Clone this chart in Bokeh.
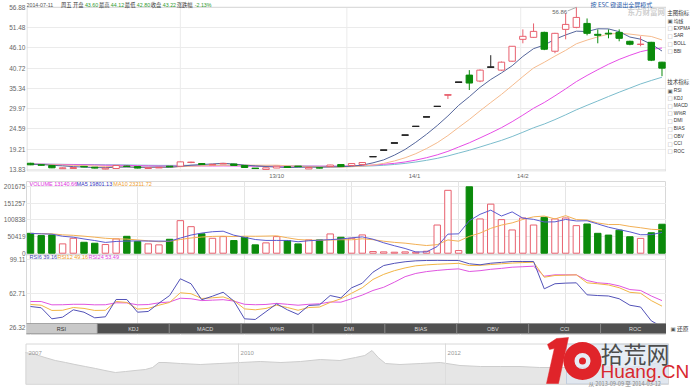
from bokeh.plotting import figure
from bokeh.layouts import column, row
from bokeh.models import Range1d, FixedTicker, CustomJSTickFormatter, Label, Span, Grid, ColumnDataSource
from bokeh.core.properties import value
from bokeh.embed import file_html
from bokeh.resources import INLINE

# ---------------- data ----------------
opens = [15.49, 15.10, 14.89, 14.05, 14.10, 14.65, 14.45, 13.95, 14.10, 14.75,
         14.62, 14.10, 14.30, 14.65, 14.70, 15.70, 15.41, 15.10, 15.35, 15.30,
         14.89, 14.15, 13.85, 14.23, 14.62, 14.68, 13.98, 14.30, 14.62, 15.15,
         14.89, 15.15, 17.25, 18.97, 20.87, 22.96, 25.26, 27.78, 30.56, 33.60,
         36.98, 38.88, 37.30, 40.99, 40.20, 42.57, 48.37, 48.90, 50.22, 45.21,
         51.01, 51.54, 52.59, 49.70, 50.00, 50.22, 47.85, 47.00, 47.58, 42.31]
highs = [15.60, 15.20, 14.95, 14.40, 14.45, 14.75, 14.50, 14.25, 14.95, 14.85,
         14.70, 14.35, 14.45, 14.70, 15.95, 15.90, 15.50, 15.30, 15.55, 15.35,
         14.95, 14.20, 14.35, 14.75, 14.70, 14.75, 14.40, 14.35, 15.10, 15.20,
         15.45, 15.70, 17.25, 18.97, 20.87, 22.96, 25.26, 27.78, 30.56, 33.62,
         36.98, 40.20, 40.40, 44.16, 42.50, 46.60, 51.01, 52.59, 50.40, 50.10,
         55.23, 56.86, 53.91, 51.01, 51.01, 51.01, 48.00, 49.17, 47.70, 42.40]
lows = [15.00, 14.90, 14.20, 14.00, 14.05, 14.45, 14.15, 13.90, 14.05, 14.55,
        14.15, 14.05, 14.25, 14.50, 14.65, 15.50, 15.10, 15.05, 15.30, 14.85,
        14.30, 14.05, 13.80, 14.20, 14.30, 14.55, 13.95, 14.15, 14.55, 14.55,
        14.85, 15.10, 17.25, 18.97, 20.87, 22.96, 25.26, 27.78, 30.56, 32.55,
        36.98, 34.93, 37.00, 40.90, 40.00, 42.40, 47.32, 48.80, 45.50, 44.68,
        48.37, 51.30, 49.43, 47.32, 48.64, 47.85, 46.80, 46.53, 42.60, 38.60]
closes = [15.07, 14.95, 14.28, 14.28, 14.35, 14.55, 14.20, 14.20, 14.90, 14.62,
          14.20, 14.30, 14.40, 14.60, 15.86, 15.72, 15.15, 15.20, 15.45, 14.90,
          14.36, 14.09, 14.28, 14.70, 14.36, 14.60, 14.36, 14.20, 15.02, 14.62,
          15.41, 15.68, 17.25, 18.97, 20.87, 22.96, 25.26, 27.78, 30.56, 33.62,
          36.98, 36.77, 40.20, 40.99, 42.31, 46.53, 49.17, 50.48, 45.74, 49.96,
          52.33, 54.18, 49.96, 49.43, 49.80, 48.64, 47.06, 47.10, 42.84, 40.73]
ma5 = [15.21, 15.16, 14.96, 14.80, 14.59, 14.48, 14.33, 14.32, 14.44, 14.49,
       14.42, 14.44, 14.48, 14.42, 14.67, 14.98, 15.15, 15.31, 15.48, 15.28,
       15.01, 14.80, 14.62, 14.47, 14.36, 14.41, 14.46, 14.44, 14.51, 14.56,
       14.72, 14.99, 15.60, 16.39, 17.64, 19.15, 21.06, 23.17, 25.49, 28.04,
       30.84, 33.14, 35.63, 37.71, 39.45, 41.36, 43.84, 45.90, 46.85, 48.38,
       49.54, 50.54, 50.43, 51.17, 51.14, 50.40, 48.98, 48.41, 47.09, 45.27]
ma10 = [15.23, 15.20, 15.10, 15.02, 14.92, 14.85, 14.75, 14.64, 14.62, 14.54,
        14.45, 14.39, 14.40, 14.43, 14.58, 14.70, 14.80, 14.90, 14.95, 14.98,
        15.00, 14.98, 14.97, 14.98, 14.82, 14.71, 14.63, 14.53, 14.49, 14.46,
        14.57, 14.73, 15.02, 15.45, 16.10, 16.94, 18.03, 19.39, 20.94, 22.84,
        25.00, 27.10, 29.40, 31.60, 33.75, 36.10, 38.49, 40.77, 42.28, 43.92,
        45.45, 47.19, 48.17, 49.01, 49.76, 49.97, 49.76, 49.42, 49.13, 48.21]
ma20 = [15.27, 15.25, 15.20, 15.16, 15.11, 15.08, 15.03, 14.97, 14.96, 14.92,
        14.84, 14.80, 14.75, 14.73, 14.75, 14.78, 14.78, 14.77, 14.79, 14.76,
        14.73, 14.69, 14.69, 14.71, 14.70, 14.71, 14.72, 14.72, 14.72, 14.72,
        14.79, 14.86, 15.00, 15.22, 15.46, 15.83, 16.33, 16.96, 17.72, 18.65,
        19.79, 20.92, 22.21, 23.53, 24.93, 26.52, 28.26, 30.08, 31.61, 33.38,
        35.23, 37.15, 38.79, 40.31, 41.76, 43.04, 44.13, 45.10, 45.71, 46.07]
ma30 = [15.28, 15.27, 15.23, 15.21, 15.17, 15.15, 15.12, 15.08, 15.07, 15.05,
        14.99, 14.96, 14.93, 14.92, 14.93, 14.95, 14.95, 14.95, 14.96, 14.94,
        14.89, 14.86, 14.82, 14.81, 14.77, 14.75, 14.73, 14.69, 14.69, 14.66,
        14.67, 14.70, 14.80, 14.95, 15.17, 15.45, 15.82, 16.27, 16.79, 17.43,
        18.19, 18.94, 19.80, 20.68, 21.56, 22.58, 23.72, 24.90, 25.90, 27.07,
        28.34, 29.67, 30.86, 32.02, 33.20, 34.34, 35.43, 36.53, 37.45, 38.32]
volumes = [60400, 53500, 55500, 28300, 45300, 33200, 30200, 26300, 43400, 51300,
           35300, 28300, 25300, 42300, 98800, 80600, 59000, 45300, 50400, 38400,
           48400, 25300, 31400, 50400, 38400, 28300, 40400, 40400, 58500, 48400,
           45300, 55500, 5000, 4000, 3000, 4000, 3000, 6000, 85600, 191000,
           8000, 201675, 104000, 149000, 102000, 70600, 107000, 85600, 109000, 104000,
           107000, 83700, 88700, 60400, 55000, 70000, 50000, 45000, 62000, 88000]
vol_ma5 = [60100, 58800, 57900, 51500, 48600, 43200, 38500, 32700, 35700, 36900,
           37300, 36900, 36700, 36500, 46000, 55100, 61200, 65200, 66800, 54700,
           48300, 41600, 38800, 38800, 38800, 34800, 37800, 39600, 41200, 43200,
           46600, 49600, 42500, 31600, 22600, 14300, 3800, 4000, 20300, 57900,
           58700, 98500, 118100, 130700, 112900, 125500, 106500, 102800, 94800, 95200,
           102500, 97900, 98500, 88800, 79000, 71600, 64800, 56100, 56400, 63000]
vol_ma10 = [60100, 59400, 58900, 55800, 54300, 51700, 48700, 45300, 43600, 42800,
            40300, 37700, 34700, 36100, 41500, 46200, 49100, 51000, 51700, 50400,
            51700, 51400, 52000, 52800, 46800, 41600, 39700, 39200, 40000, 41000,
            40700, 43700, 41100, 36400, 32900, 30500, 26700, 23300, 26000, 40300,
            36500, 51200, 61100, 75500, 85400, 92100, 102500, 110500, 112800, 104100,
            114000, 102200, 100700, 91800, 87100, 87100, 81400, 77300, 72600, 71000]
rsi6 = [48.6, 47.2, 35.2, 37.0, 45.0, 42.4, 36.3, 37.4, 56.2, 56.2,
        42.4, 43.2, 52.2, 60.5, 78.7, 73.3, 55.9, 59.8, 64.1, 54.5,
        35.2, 34.5, 43.0, 51.5, 45.0, 39.9, 49.7, 50.4, 60.5, 58.0,
        68.9, 73.9, 85.9, 93.1, 95.5, 97.2, 98.2, 98.6, 98.7, 98.6,
        98.6, 95.0, 93.9, 95.6, 96.5, 97.5, 97.5, 97.5, 67.8, 73.3,
        74.0, 74.3, 61.3, 60.5, 60.0, 57.0, 50.0, 48.0, 33.0, 26.5]
rsi12 = [50.8, 50.0, 44.3, 44.5, 47.5, 46.5, 44.3, 44.5, 54.0, 53.0,
         45.8, 46.5, 50.0, 53.0, 63.5, 62.5, 57.3, 58.0, 59.0, 55.0,
         46.0, 45.0, 46.5, 50.0, 47.5, 44.5, 47.5, 48.0, 53.0, 57.0,
         63.0, 69.0, 78.0, 83.5, 87.5, 90.5, 92.8, 93.8, 94.5, 95.0,
         95.5, 93.1, 93.3, 94.2, 95.0, 95.8, 96.3, 96.7, 80.4, 82.3,
         82.6, 83.0, 74.3, 73.3, 72.0, 69.0, 64.0, 63.0, 55.0, 49.0]
rsi24 = [54.0, 54.0, 50.4, 50.5, 51.0, 51.0, 50.4, 50.5, 52.6, 52.5,
         50.4, 50.7, 52.6, 53.5, 57.6, 57.0, 55.0, 55.5, 56.0, 54.5,
         51.0, 50.5, 50.8, 52.0, 51.0, 50.0, 51.0, 51.5, 53.5, 53.3,
         57.0, 61.0, 66.0, 69.5, 75.0, 81.0, 84.5, 86.5, 87.8, 88.8,
         89.5, 86.6, 87.5, 89.0, 90.0, 91.3, 91.8, 92.4, 81.5, 83.0,
         83.0, 83.0, 76.8, 74.3, 73.5, 71.0, 67.0, 66.0, 60.0, 55.0]
price_ticks = [13.83, 19.21, 24.59, 29.97, 35.34, 40.72, 46.10, 51.48, 56.88]
volume_ticks = [0, 50419, 100838, 151257, 201675]
volume_tick_labels = ["0", "50419", "100838", "151257", "201675"]
rsi_ticks = [26.32, 62.71, 99.11]
rsi_tick_labels = ["26.32", "62.71", "99.11"]
date_tick_pos = [23.0, 35.875, 46.0]
date_tick_labels = ["13/10", "14/1", "14/2"]
date_grid_pos = [14.0, 29.56, 45.8]
tab_names = ["RSI", "KDJ", "MACD", "W%R", "DMI", "BIAS", "OBV", "CCI", "ROC"]
main_indicators = ["均线", "EXPMA", "SAR", "BOLL", "BBI"]
tech_indicators = ["RSI", "KDJ", "MACD", "W%R", "DMI", "BIAS", "OBV", "CCI", "ROC"]
nav_years = [2007.94, 2008.04, 2008.13, 2008.23, 2008.33, 2008.42, 2008.52, 2008.62, 2008.71, 2008.81,
             2008.91, 2009.00, 2009.10, 2009.17, 2009.23, 2009.29, 2009.44, 2009.63, 2009.82, 2010.02,
             2010.21, 2010.41, 2010.60, 2010.79, 2010.98, 2011.13, 2011.22, 2011.29, 2011.35, 2011.42,
             2011.56, 2011.76, 2011.95, 2012.14, 2012.34, 2012.53, 2012.72, 2012.91, 2013.11, 2013.30,
             2013.49, 2013.69, 2013.88, 2014.07, 2014.15]
nav_close = [32, 30, 27, 24, 22, 20, 18, 16, 14, 12,
             13, 14, 15, 17, 22, 22, 21, 20, 21, 22,
             23, 22, 23, 25, 24, 27, 29, 34, 27, 21,
             20, 21, 22, 19, 18, 18, 18, 17, 17, 17,
             18, 17, 18, 22, 24]
nav_year_ticks = [2010.0, 2012.0]
nav_year_labels = [(2007.97, "2007"), (2010.02, "2010"), (2012.02, "2012")]

# ---------------- layout (page pixels; Bokeh's page has no body margin) ----------------
FONT = "Liberation Sans"
CJK = "Noto Sans CJK SC"
UP, DOWN, FLAT = "#e8606e", "#0b8a0b", "#222222"
GRID = "#ebebeb"
LOGO_RED = "#e0242a"

L_B = 25
LEFT_W = 666
R_W = 690 - LEFT_W
A_H, A_B = 181, 9
B_H = 154
D_H = 52
A_fb = A_H - A_B
B_t, B_b = A_H, A_H + B_H

def idx_of(px):
    return (px - 29.0) / 10.72
def price_of(py):
    return 13.83 + (170.0 - py) * (56.88 - 13.83) / (170.0 - 6.8)
def vol_of(py):
    return (252.7 - py) * 201675 / (252.7 - 186.3)
def rsi_of(py):
    return 99.11 - (py - 259.5) * (99.11 - 26.32) / (326.5 - 259.5)
def year_of(px):
    return 2010.0 + (px - 238.0) / 103.5
def navv_of(py):
    return 384.0 - py

x_range = Range1d(idx_of(L_B), idx_of(LEFT_W))

def style(p):
    p.background_fill_color = "white"
    p.border_fill_color = "white"
    p.outline_line_color = "#d8d8d8"
    for ax in p.axis:
        ax.axis_line_color = None
        ax.major_tick_line_color = None
        ax.minor_tick_line_color = None
        ax.major_tick_out = 0
        ax.major_tick_in = 0
        ax.minor_tick_out = 0
        ax.minor_tick_in = 0
        ax.major_label_text_font = FONT
        ax.major_label_text_font_size = "6.5px"
        ax.major_label_text_color = "#666666"
        ax.major_label_standoff = 1

def lab(p, x, y, text, color="#333333", size="6px", font=FONT, align="left", bold=False, xr="rx", yr="ry"):
    kw = {}
    if xr: kw["x_range_name"] = xr
    if yr: kw["y_range_name"] = yr
    p.add_layout(Label(x=x, y=y, text=text, text_color=color, text_font_size=size, text_font=font,
                       text_align=align, text_baseline="middle",
                       text_font_style="bold" if bold else "normal", **kw))

# ---- main price panel (title row is inside its frame) ----
pA = figure(width=LEFT_W, height=A_H, x_range=x_range,
            y_range=Range1d(price_of(A_fb), price_of(0)),
            output_backend="svg", toolbar_location=None,
            min_border_left=L_B, min_border_right=0, min_border_top=0, min_border_bottom=A_B)
pA.extra_x_ranges = {"rx": Range1d(L_B, LEFT_W)}
pA.extra_y_ranges = {"ry": Range1d(A_fb, 0)}
style(pA)
pA.outline_line_color = None
pA.yaxis.ticker = FixedTicker(ticks=price_ticks)
pA.yaxis.formatter = CustomJSTickFormatter(code="return tick.toFixed(2);")
pA.ygrid.ticker = FixedTicker(ticks=price_ticks)
pA.ygrid.grid_line_color = GRID
pA.xgrid.visible = False
pA.xaxis.ticker = FixedTicker(ticks=date_tick_pos)
pA.xaxis.major_label_text_font_size = "6px"
pA.xaxis.formatter = CustomJSTickFormatter(args=dict(pos=date_tick_pos, lab=date_tick_labels), code="""
let b = ''; let d = 1e9;
for (let k = 0; k < pos.length; k++) { const e = Math.abs(pos[k] - tick); if (e < d) { d = e; b = lab[k]; } }
return b;""")
pA.segment(x0=date_grid_pos, x1=date_grid_pos, y0=[price_of(A_fb)] * 3, y1=[price_ticks[-1]] * 3,
           line_color=GRID, line_width=1)
pA.quad(left=[L_B + 0.5], right=[LEFT_W - 0.5], top=[6.8], bottom=[A_fb - 0.5], fill_color=None,
        line_color="#d8d8d8", line_width=1, x_range_name="rx", y_range_name="ry")

n = len(closes)
idx = list(range(n))
fill, linec = [], []
for o, c in zip(opens, closes):
    if c > o:
        fill.append("#ffffff"); linec.append(UP)
    elif c < o:
        fill.append(DOWN); linec.append(DOWN)
    else:
        fill.append(FLAT); linec.append(FLAT)
src = ColumnDataSource(dict(x=idx, o=opens, h=highs, l=lows, c=closes,
                            top=[max(a, b) for a, b in zip(opens, closes)],
                            bot=[min(a, b) for a, b in zip(opens, closes)],
                            fill=fill, line=linec, vol=volumes,
                            vfill=["#ffffff" if c >= o else DOWN for o, c in zip(opens, closes)],
                            vline=[UP if c >= o else DOWN for o, c in zip(opens, closes)]))

for vals, col in [(ma30, "#7bbccc"), (ma20, "#e64de6"), (ma10, "#f5bb8e"), (ma5, "#56679c")]:
    pA.line(idx, vals, line_color=col, line_width=1)
pA.segment(x0="x", y0="l", x1="x", y1="h", line_color="line", line_width=1, source=src)
pA.vbar(x="x", width=0.6, top="top", bottom="bot", fill_color="fill", line_color="line", line_width=1, source=src)
dj = [i for i in idx if abs(closes[i] - opens[i]) < 0.1]
pA.segment(x0=[i - 0.33 for i in dj], x1=[i + 0.33 for i in dj],
           y0=[(opens[i] + closes[i]) / 2 for i in dj], y1=[(opens[i] + closes[i]) / 2 for i in dj],
           line_color=[linec[i] for i in dj], line_width=1.3)
imax = max(idx, key=lambda i: highs[i])
pA.segment(x0=[idx_of(567)], y0=[price_of(10.5)], x1=[imax], y1=[highs[imax]], line_color="#999999", line_width=0.8)
lab(pA, idx_of(566.5), price_of(12), "%.2f" % highs[imax], color="#666666", align="right", size="6px", xr=None, yr=None)

green = "#2f9a2f"
for tx, x, col, f in [("2014-07-11", 25, "#555555", FONT), ("周五", 59.5, "#333333", CJK), ("开盘", 71.5, "#333333", CJK),
                      ("43.60", 83.5, green, FONT), ("最高", 97.5, "#333333", CJK), ("44.12", 109.5, green, FONT),
                      ("最低", 123.5, "#333333", CJK), ("42.80", 135.5, green, FONT), ("收盘", 149.5, "#333333", CJK),
                      ("43.22", 161.5, green, FONT), ("涨跌幅", 175.5, "#333333", CJK), ("-2.13%", 193.5, green, FONT)]:
    lab(pA, x, 4.2, tx, color=col, font=f, size="5.3px")
lab(pA, 590, 3.6, "按 ESC 键退出全屏模式", color="#2a5caa", font=CJK, size="6px")
lab(pA, 627, 11.5, "东方财富网", color="#cfcfcf", size="7.5px", font=CJK, bold=True)

# ---- volume + RSI panel ----
pB = figure(width=LEFT_W, height=B_H, x_range=x_range, y_range=Range1d(vol_of(B_b), vol_of(B_t)),
            output_backend="svg", toolbar_location=None, x_axis_location=None,
            min_border_left=L_B, min_border_right=0, min_border_top=0, min_border_bottom=0)
pB.extra_y_ranges = {"rsi": Range1d(rsi_of(B_b), rsi_of(B_t)), "ry": Range1d(B_b, B_t)}
pB.extra_x_ranges = {"rx": Range1d(L_B, LEFT_W)}
style(pB)
v_lo, v_hi = vol_of(B_b), vol_of(B_t)
r_lo, r_hi = rsi_of(B_b), rsi_of(B_t)
rsi_equiv = [round(v_lo + (r - r_lo) / (r_hi - r_lo) * (v_hi - v_lo)) for r in rsi_ticks]
all_ticks = volume_ticks + rsi_equiv
all_labels = volume_tick_labels + rsi_tick_labels
pB.yaxis.ticker = FixedTicker(ticks=all_ticks)
pB.yaxis.formatter = CustomJSTickFormatter(args=dict(pos=all_ticks, lab=all_labels), code="""
let b = ''; let d = 1e18;
for (let k = 0; k < pos.length; k++) { const e = Math.abs(pos[k] - tick); if (e < d) { d = e; b = lab[k]; } }
return b;""")
pB.ygrid.ticker = FixedTicker(ticks=all_ticks)
pB.ygrid.grid_line_color = GRID
pB.add_layout(Grid(dimension=0, ticker=FixedTicker(ticks=date_grid_pos), grid_line_color=GRID))
pB.add_layout(Span(location=vol_of(254.3), dimension="width", line_color="#cccccc", line_width=1))

pB.vbar(x="x", width=0.6, top="vol", bottom=0, fill_color="vfill", line_color="vline", line_width=1, source=src)
pB.line(idx, vol_ma10, line_color="#f2b055", line_width=1)
pB.line(idx, vol_ma5, line_color="#5b5bd0", line_width=1)
pB.line(idx, rsi24, line_color="#e055e0", line_width=1, y_range_name="rsi")
pB.line(idx, rsi12, line_color="#f2b545", line_width=1, y_range_name="rsi")
pB.line(idx, rsi6, line_color="#5252b8", line_width=1, y_range_name="rsi")

for tx, x, col in [("VOLUME 13140.66", 28, "#e030e0"), ("MA5 19801.13", 75, "#3434c0"), ("MA10 23211.72", 112, "#f0a030")]:
    lab(pB, x, 183.3, tx, color=col, size="5.5px")
for tx, x, col in [("RSI6 39.16", 28, "#4545b5"), ("RSI12 49.16", 56, "#f0a028"), ("RSI24 53.49", 87, "#e040e0")]:
    lab(pB, x, 256, tx, color=col, size="5.5px")

tab_edges = [24, 96, 168, 240, 312, 384, 456, 528, 600, 669]
tl = tab_edges[:-1]; tr = tab_edges[1:]
pB.quad(left=tl, right=tr, top=[323] * 9, bottom=[333] * 9,
        fill_color=["#c9c9c9"] + ["#505050"] * 8, line_color="#8a8a8a", line_width=0.7,
        x_range_name="rx", y_range_name="ry")
pB.text(x=[(a + b) / 2 for a, b in zip(tl, tr)], y=[328.2] * 9, text=tab_names,
        text_color=["#333333"] + ["#dddddd"] * 8, text_font=value(FONT), text_font_size="5.5px",
        text_align="center", text_baseline="middle", x_range_name="rx", y_range_name="ry")

# ---- right side panel (indicator pickers) ----
pR = figure(width=R_W, height=A_H + B_H, x_range=Range1d(LEFT_W, 690), y_range=Range1d(A_H + B_H, 0),
            output_backend="svg", toolbar_location=None, x_axis_location=None, y_axis_location=None,
            min_border=0, min_border_left=0, min_border_right=0, min_border_top=0, min_border_bottom=0)
pR.outline_line_color = None
pR.grid.visible = False
lab(pR, 666.8, 12, "主图指标", color="#333333", font=CJK, size="5.5px", xr=None, yr=None)
for k, name in enumerate(main_indicators):
    y = 20 + k * 7.7
    lab(pR, 667, y, "▣" if k == 0 else "□", color="#555555" if k == 0 else "#aaaaaa", size="5.5px", font="DejaVu Sans", xr=None, yr=None)
    lab(pR, 673.2, y, name, color="#333333", size="4.8px", font=CJK if k == 0 else FONT, xr=None, yr=None)
lab(pR, 666.8, 81, "技术指标", color="#333333", font=CJK, size="5.5px", xr=None, yr=None)
for k, name in enumerate(tech_indicators):
    y = 90 + k * 7.6
    lab(pR, 667, y, "▣" if k == 0 else "□", color="#555555" if k == 0 else "#aaaaaa", size="5.5px", font="DejaVu Sans", xr=None, yr=None)
    lab(pR, 673.2, y, name, color="#333333", size="4.8px", font=FONT, xr=None, yr=None)
lab(pR, 670, 328, "▣", color="#555555", size="5.5px", font="DejaVu Sans", xr=None, yr=None)
lab(pR, 676.5, 328, "还原", color="#333333", size="5.8px", font=CJK, xr=None, yr=None)

# ---- navigator ----
D_t = A_H + B_H
pD = figure(width=690, height=D_H, x_range=Range1d(year_of(0), year_of(690)),
            y_range=Range1d(navv_of(D_t + D_H), navv_of(D_t)),
            output_backend="svg", toolbar_location=None, x_axis_location=None, y_axis_location=None,
            min_border=0, min_border_left=0, min_border_right=0, min_border_top=0, min_border_bottom=0)
pD.extra_x_ranges = {"rx": Range1d(0, 690)}
pD.extra_y_ranges = {"ry": Range1d(D_t + D_H, D_t)}
pD.background_fill_color = "white"
pD.outline_line_color = None
pD.grid.visible = False
pD.varea(x=nav_years, y1=[0] * len(nav_years), y2=nav_close, fill_color="#e6e6e6")
pD.line(nav_years, nav_close, line_color="#cdcdcd", line_width=1)
pD.segment(x0=nav_year_ticks, x1=nav_year_ticks, y0=[0, 0], y1=[navv_of(343)] * 2, line_color="#dddddd", line_width=1)
pD.quad(left=[566], right=[668], top=[343.5], bottom=[383.5], fill_color="#dfe7f2", fill_alpha=0.75,
        line_color="#b9c8dc", line_width=0.8, x_range_name="rx", y_range_name="ry")
pD.quad(left=[25.5], right=[668], top=[343.5], bottom=[383.8], fill_color=None,
        line_color="#d8d8d8", line_width=1, x_range_name="rx", y_range_name="ry")
for yr, t in nav_year_labels:
    lab(pD, yr, navv_of(352), t, color="#999999", size="6px", xr=None, yr=None)

# logo: a slanted "1" and a gear-like "0", then the site name
pD.patch(x=[547, 556, 568, 558, 546, 553.8, 549], y=[344, 338, 337, 383, 383, 348, 349],
         fill_color=LOGO_RED, line_color=LOGO_RED, line_width=0.5, x_range_name="rx", y_range_name="ry")
pD.annulus(x=[582], y=[360.5], inner_radius=8, outer_radius=19, inner_radius_units="screen",
           outer_radius_units="screen", fill_color=LOGO_RED, line_color=None, x_range_name="rx", y_range_name="ry")
pD.scatter(x=[582], y=[360.5], size=7, marker="circle", fill_color=LOGO_RED, line_color=None,
           x_range_name="rx", y_range_name="ry")
lab(pD, 600, 352, "拾荒网", color="#4d4d4d", size="23px", font=CJK)
lab(pD, 600, 371, "Huang.CN", color="#d8282e", size="19px", font=FONT)
lab(pD, 588, 383, "从 2013-09-09 至 2014-03-12", color="#888888", size="5.6px", font=CJK)

layout = column(row(column(pA, pB, spacing=0), pR, spacing=0), pD, spacing=0)
open("out.html", "w").write(file_html(layout, INLINE))
